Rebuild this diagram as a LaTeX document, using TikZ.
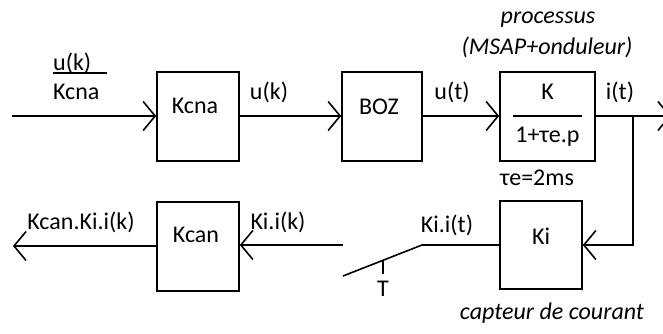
\documentclass[tikz,border=0pt]{standalone}
\usepackage{fontspec}
\setmainfont{Carlito}
\usetikzlibrary{arrows.meta}
\begin{document}
\begin{tikzpicture}[x=1pt,y=-1pt,
  blk/.style={draw,line width=1.6pt,minimum width=82pt,minimum height=89pt,inner sep=0pt},
  txt/.style={font=\fontsize{24}{28}\selectfont,inner sep=0pt},
  itxt/.style={font=\fontsize{24}{28}\selectfont\itshape,inner sep=0pt},
  ln/.style={line width=1.6pt},
  arr/.style={ln,-{Straight Barb[length=12pt,width=29pt,line width=1.6pt]}}]
\useasboundingbox (0,0) rectangle (663,333);
% blocks
\node[blk] (kcna) at (198,116.5) {};
\node[blk,minimum width=80pt] (boz) at (382,116.5) {};
\node[blk,minimum width=95pt] (proc) at (547.5,116.5) {};
\node[blk,minimum height=88pt] (ki) at (541,245) {};
\node[blk] (kcan) at (198,246.5) {};
% block texts
\node[txt] (tkcna) at (195,106) {Kcna};
\node[txt] (tboz) at (379,107) {BOZ};
\node[txt] (tK) at (547.5,92) {K};
\node[txt] (tden) at (547.5,137) {1+τe.p};
\node[txt] (tki) at (541,236) {Ki};
\node[txt] (tkcan) at (196,235) {Kcan};
\coordinate (barL) at (513,116);
\coordinate (barR) at (582,116);
\draw[ln] (barL) -- (barR);
% coordinates
\coordinate (in) at (12,116);
\coordinate (out) at (671,116);
\coordinate (br) at (633,116);
\coordinate (brd) at (633,245);
\coordinate (sw1) at (422,245);
\coordinate (sw2) at (343,276);
\coordinate (sw3) at (343,245);
\coordinate (tick1) at (383,260);
\coordinate (tick2) at (383,274);
\coordinate (fin) at (13,246);
% connectors
\draw[arr] (in) -- (kcna.west |- in);
\draw[arr] (kcna.east |- in) -- (boz.west |- in);
\draw[arr] (boz.east |- in) -- (proc.west |- in);
\draw[arr] (proc.east |- in) -- (out);
\draw[arr] (br) -- (brd) -- (ki.east |- brd);
\draw[ln] (ki.west |- sw1) -- (sw1) -- (sw2);
\draw[ln] (tick1) -- (tick2);
\draw[arr] (sw3) -- (kcan.east |- sw3);
\draw[arr] (kcan.west |- fin) -- (fin);
% labels
\node[txt,anchor=west] (luk1) at (53,63) {u(k)};
\coordinate (fbL) at (53,73);
\coordinate (fbR) at (107,73);
\draw[ln] (fbL) -- (fbR);
\node[txt,anchor=west] (lkcna) at (53,92) {Kcna};
\node[txt] (luk) at (269,92) {u(k)};
\node[txt] (lut) at (452,92) {u(t)};
\node[txt] (lit) at (620,92) {i(t)};
\node[itxt] (lproc) at (548,20) {processus};
\node[itxt] (lmsap) at (547,47) {(MSAP+onduleur)};
\node[txt] (ltau) at (537,178) {τe=2ms};
\node[txt] (lkit) at (447,225) {Ki.i(t)};
\node[txt] (lT) at (383,289) {T};
\node[txt] (lkik) at (278,222) {Ki.i(k)};
\node[txt] (lkcanki) at (81,222) {Kcan.Ki.i(k)};
\node[itxt] (lcapt) at (552,313) {capteur de courant};
\end{tikzpicture}
\end{document}
